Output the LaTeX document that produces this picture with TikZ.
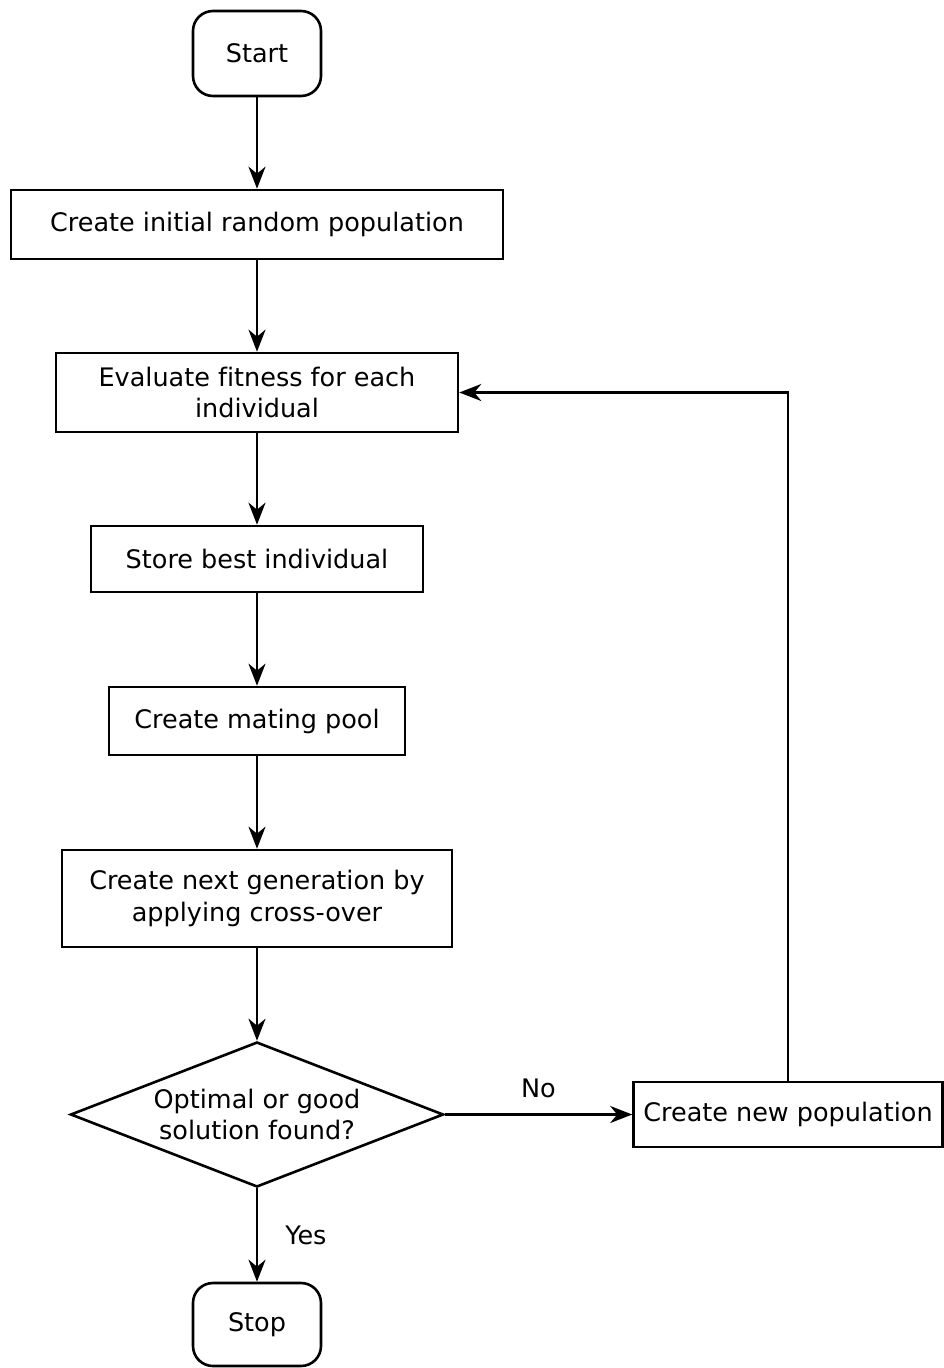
\documentclass[tikz,border=0pt]{standalone}
\usepackage{fontspec}
\setmainfont[Ligatures=NoCommon]{DejaVu Sans}
\usetikzlibrary{arrows.meta,shapes.geometric}
\begin{document}
\begin{tikzpicture}[x=1pt,y=-1pt,
  font=\fontsize{25.5}{31.5}\selectfont,
  line width=2.6pt,
  box/.style={draw,rectangle,inner sep=0pt,align=center},
  term/.style={draw,rectangle,rounded corners=20pt,inner sep=0pt,align=center,minimum width=128pt},
  decide/.style={draw,diamond,aspect=2.57,inner sep=0pt,align=center,minimum width=373pt,minimum height=145pt},
  arr/.style={-{Stealth[length=22pt,width=17pt,inset=7pt]}},
  lbl/.style={inner sep=0pt}]
\useasboundingbox (0,0) rectangle (943,1368);
\node[term,minimum height=85pt] (start) at (257,53.5) {Start};
\node[box,minimum width=492pt,minimum height=69pt] (init) at (257,224.5) {Create initial random population};
\node[box,minimum width=402pt,minimum height=79pt] (eval) at (257,392.5) {Evaluate fitness for each\\individual};
\node[box,minimum width=332pt,minimum height=66pt] (best) at (257,559) {Store best individual};
\node[box,minimum width=296pt,minimum height=68pt] (pool) at (257,721) {Create mating pool};
\node[box,minimum width=390pt,minimum height=97pt] (next) at (257,898.5) {Create next generation by\\applying cross-over};
\node[decide] (dec) at (257,1114.5) {Optimal or good\\solution found?};
\node[box,minimum width=309pt,minimum height=65pt] (newpop) at (788,1114.5) {Create new population};
\node[term,minimum height=83pt] (stop) at (257,1324.5) {Stop};
\draw[arr] (start) -- (init);
\draw[arr] (init) -- (eval);
\draw[arr] (eval) -- (best);
\draw[arr] (best) -- (pool);
\draw[arr] (pool) -- (next);
\draw[arr] (next) -- (dec);
\draw[arr] (dec.east) -- node[lbl,above=15pt] (no) {No} (newpop.west);
\draw[arr] (dec.south) -- node[lbl,right=27pt] (yes) {Yes} (stop.north);
\draw[arr] (newpop.north) |- (eval.east);
\end{tikzpicture}
\end{document}
